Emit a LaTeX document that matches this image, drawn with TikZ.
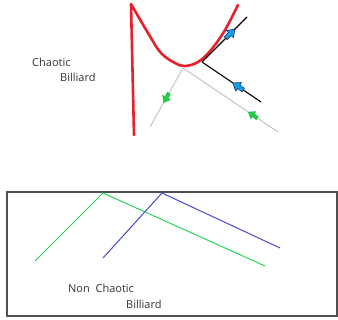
\documentclass[tikz,border=0pt]{standalone}
\usepackage{fontspec}
\setmainfont{Open Sans}
\usepackage{tikz}
\usetikzlibrary{arrows.meta, decorations.markings}
\definecolor{wallred}{RGB}{232, 32, 44}
\definecolor{raygray}{RGB}{196, 196, 196}
\definecolor{tipblue}{RGB}{20, 160, 228}
\definecolor{tipnavy}{RGB}{24, 44, 110}
\definecolor{tipgreen}{RGB}{40, 204, 72}
\definecolor{pathgreen}{RGB}{40, 214, 84}
\definecolor{pathblue}{RGB}{72, 72, 214}
\definecolor{framegray}{RGB}{80, 80, 80}

\begin{document}
\begin{tikzpicture}[x=1pt, y=-1pt,
    lbl/.style={anchor=base west, inner sep=0pt, font=\fontsize{11}{13}\selectfont, text=black!80},
    bluetip/.style={fill=tipblue, draw=tipnavy, line width=0.6pt, line join=round, scale=1.15},
    greentip/.style={fill=tipgreen, draw=tipgreen!85!black, line width=0.3pt},
    tipat/.style 2 args={postaction=decorate, decoration={markings,
      mark=at position #1 with {\filldraw[#2] (-5,-1.8) -- (0,-1.8) -- (0,-4.5) -- (6,0)
        -- (0,4.5) -- (0,1.8) -- (-5,1.8) -- cycle;}}}]
  \useasboundingbox (0,0) rectangle (338,320);

  % chaotic billiard
  \coordinate (ctop) at (131,4);
  \coordinate (cbot) at (134,135);
  \draw[wallred, line width=2.6pt, line join=round, line cap=round]
    (cbot) -- (ctop) -- plot[smooth, tension=0.6] coordinates {(131,4) (148,33) (161,53)
      (175,63) (185,66) (198,62) (211,50) (225,30) (238,5)};

  \coordinate (gvert) at (183,68);
  \coordinate (gleft) at (150,127);
  \coordinate (gright) at (278,132);
  \draw[raygray, line width=1pt, tipat={0.5}{greentip}] (gvert) -- (gleft);
  \draw[raygray, line width=1pt, tipat={0.26}{greentip}] (gright) -- (gvert);

  \coordinate (bvert) at (202,62);
  \coordinate (bup) at (247,17);
  \coordinate (bdown) at (261,102);
  \draw[black, line width=1.1pt, tipat={0.38}{bluetip}] (bdown) -- (bvert);
  \draw[black, line width=1.1pt, tipat={0.62}{bluetip}] (bvert) -- (bup);

  \node[lbl] (chaos1) at (32,67) {Chaotic};
  \node[lbl] (chaos2) at (60,82) {Billiard};

  % non chaotic billiard
  \draw[framegray, line width=1.2pt] (7,192) rectangle (337,316);

  \coordinate (ga) at (35,261);
  \coordinate (gb) at (103,193);
  \coordinate (gc) at (265,266);
  \draw[pathgreen, line width=1pt] (ga) -- (gb) -- (gc);
  \coordinate (ba) at (103,258);
  \coordinate (bb) at (162,193);
  \coordinate (bc) at (280,248);
  \draw[pathblue, line width=1pt] (ba) -- (bb) -- (bc);

  \node[lbl] (nonchaos1) at (68,293) {Non\ \ Chaotic};
  \node[lbl] (nonchaos2) at (126,309) {Billiard};
\end{tikzpicture}
\end{document}
